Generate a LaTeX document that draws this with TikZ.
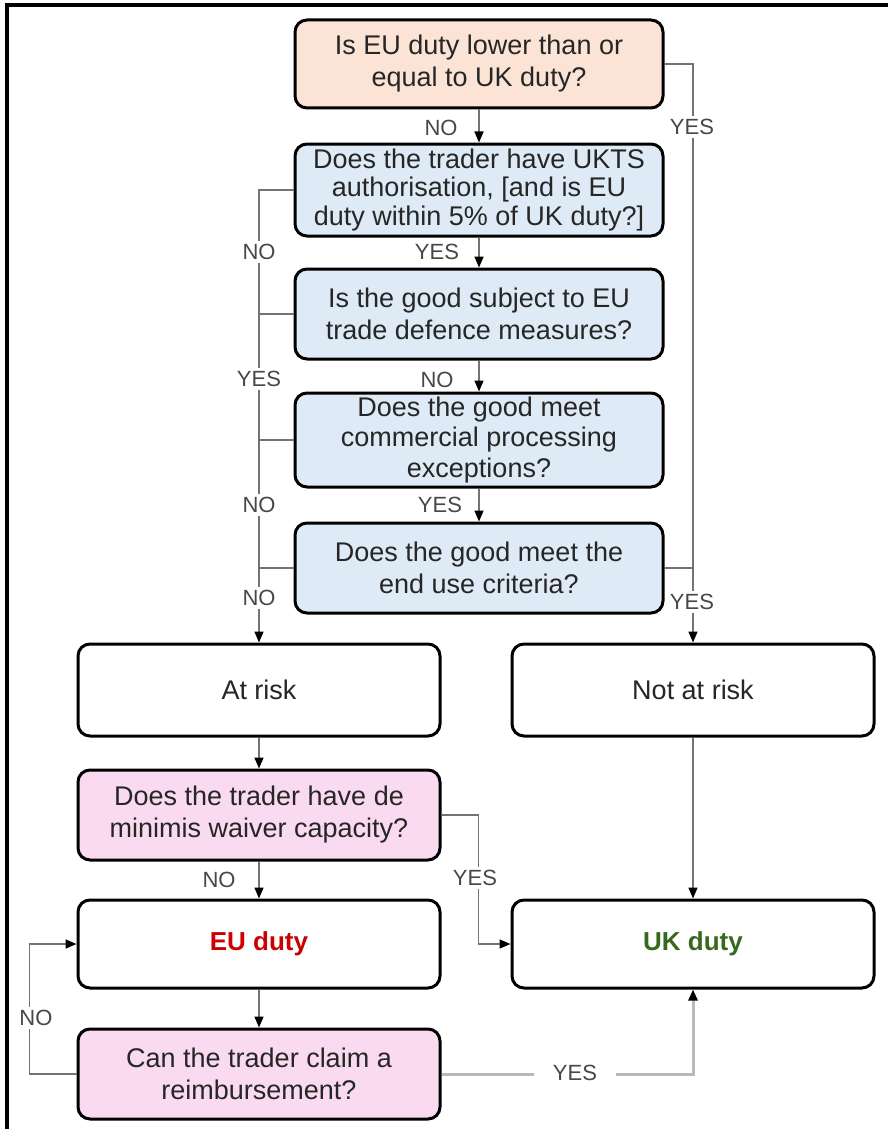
\documentclass[tikz,border=0pt]{standalone}
\usepackage{fontspec}
\setmainfont{Liberation Sans}
\usetikzlibrary{arrows.meta}
\definecolor{peach}{RGB}{251,228,214}
\definecolor{lblue}{RGB}{222,234,246}
\definecolor{lpink}{RGB}{250,218,240}
\definecolor{eured}{RGB}{204,0,0}
\definecolor{ukgreen}{RGB}{56,104,29}
\definecolor{conn}{RGB}{115,115,115}
\definecolor{lconn}{RGB}{185,185,185}
\tikzset{
  box/.style={draw=black, line width=3pt, rounded corners=12pt, align=center,
    minimum width=368pt, inner sep=0pt, text=black!85, font=\fontsize{27}{32}\selectfont},
  wbox/.style={box, minimum width=362pt, fill=white},
  conline/.style={draw=conn, line width=1.6pt},
  arr/.style={conline, -{Triangle[color=black, length=11pt, width=9pt]}},
  lbl/.style={font=\fontsize{22}{24}\selectfont, text=black!72, inner sep=1pt},
  lblw/.style={lbl, fill=white, inner ysep=3pt}
}
\begin{document}
\begin{tikzpicture}[x=1pt, y=-1pt]
\useasboundingbox (0,0) rectangle (887,1129);
\fill[white] (0,0) rectangle (887,1129);
\draw[line width=4pt] (7,1135) -- (7,5) -- (895,5);

\node[box, fill=peach, minimum height=88pt] (b1) at (479,64) {Is EU duty lower than or\\equal to UK duty?};
\node[box, fill=lblue, minimum height=92pt, font=\fontsize{27}{28.5}\selectfont] (b2) at (479,190) {Does the trader have UKTS\\authorisation, [and is EU\\duty within 5\% of UK duty?]};
\node[box, fill=lblue, minimum height=90pt] (b3) at (479,314) {Is the good subject to EU\\trade defence measures?};
\node[box, fill=lblue, minimum height=94pt, font=\fontsize{27}{30.5}\selectfont] (b4) at (479,440) {Does the good meet\\commercial processing\\exceptions?};
\node[box, fill=lblue, minimum height=90pt] (b5) at (479,568) {Does the good meet the\\end use criteria?};
\node[wbox, minimum height=92pt] (ar) at (259,690) {At risk};
\node[wbox, minimum height=92pt] (nar) at (693,690) {Not at risk};
\node[wbox, fill=lpink, minimum height=90pt] (dm) at (259,815) {Does the trader have de\\minimis waiver capacity?};
\node[wbox, minimum height=88pt, font=\bfseries\fontsize{26}{30}\selectfont, text=eured] (eu) at (259,944) {EU duty};
\node[wbox, minimum height=88pt, font=\bfseries\fontsize{26}{30}\selectfont, text=ukgreen] (uk) at (693,944) {UK duty};
\node[wbox, fill=lpink, minimum height=90pt] (rb) at (259,1074) {Can the trader claim a\\reimbursement?};

% main column
\draw[arr] (b1) -- (b2);
\draw[arr] (b2) -- (b3);
\draw[arr] (b3) -- (b4);
\draw[arr] (b4) -- (b5);
% right YES line
\draw[arr] (b1.east) -| (nar.north);
\draw[conline] (b5.east) -- (b5.east -| nar.north);
% left spine
\draw[arr] (b2.west) -| (ar.north);
\draw[conline] (b3.west) -- (b3.west -| ar.north);
\draw[conline] (b4.west) -- (b4.west -| ar.north);
\draw[conline] (b5.west) -- (b5.west -| ar.north);
% lower part
\draw[arr] (ar) -- (dm);
\draw[arr] (nar) -- (uk);
\draw[arr] (dm) -- (eu);
\draw[arr] (dm.east) -- ++(37,0) |- (uk.west);
\draw[arr] (eu) -- (rb);
\draw[arr] (rb.west) -- ++(-47,0) |- (eu.west);
\draw[line width=3pt, draw=lconn, -{Triangle[color=black, length=11pt, width=9pt]}] (rb.east) -| (uk.south);

% labels
\node[lbl] (l1) at (441,128) {NO};
\node[lblw] (l2) at (692,127) {YES};
\node[lbl] (l3) at (437,252) {YES};
\node[lblw] (l4) at (259,252) {NO};
\node[lblw] (l5) at (259,379) {YES};
\node[lbl] (l6) at (437,380) {NO};
\node[lblw] (l7) at (259,505) {NO};
\node[lbl] (l8) at (440,505) {YES};
\node[lblw] (l9) at (259,598) {NO};
\node[lblw] (l10) at (692,602) {YES};
\node[lbl] (l11) at (219,880) {NO};
\node[lblw] (l12) at (475,878) {YES};
\node[lblw] (l13) at (36,1018) {NO};
\node[lblw, inner xsep=19pt] (l14) at (575,1073) {YES};
\end{tikzpicture}
\end{document}
